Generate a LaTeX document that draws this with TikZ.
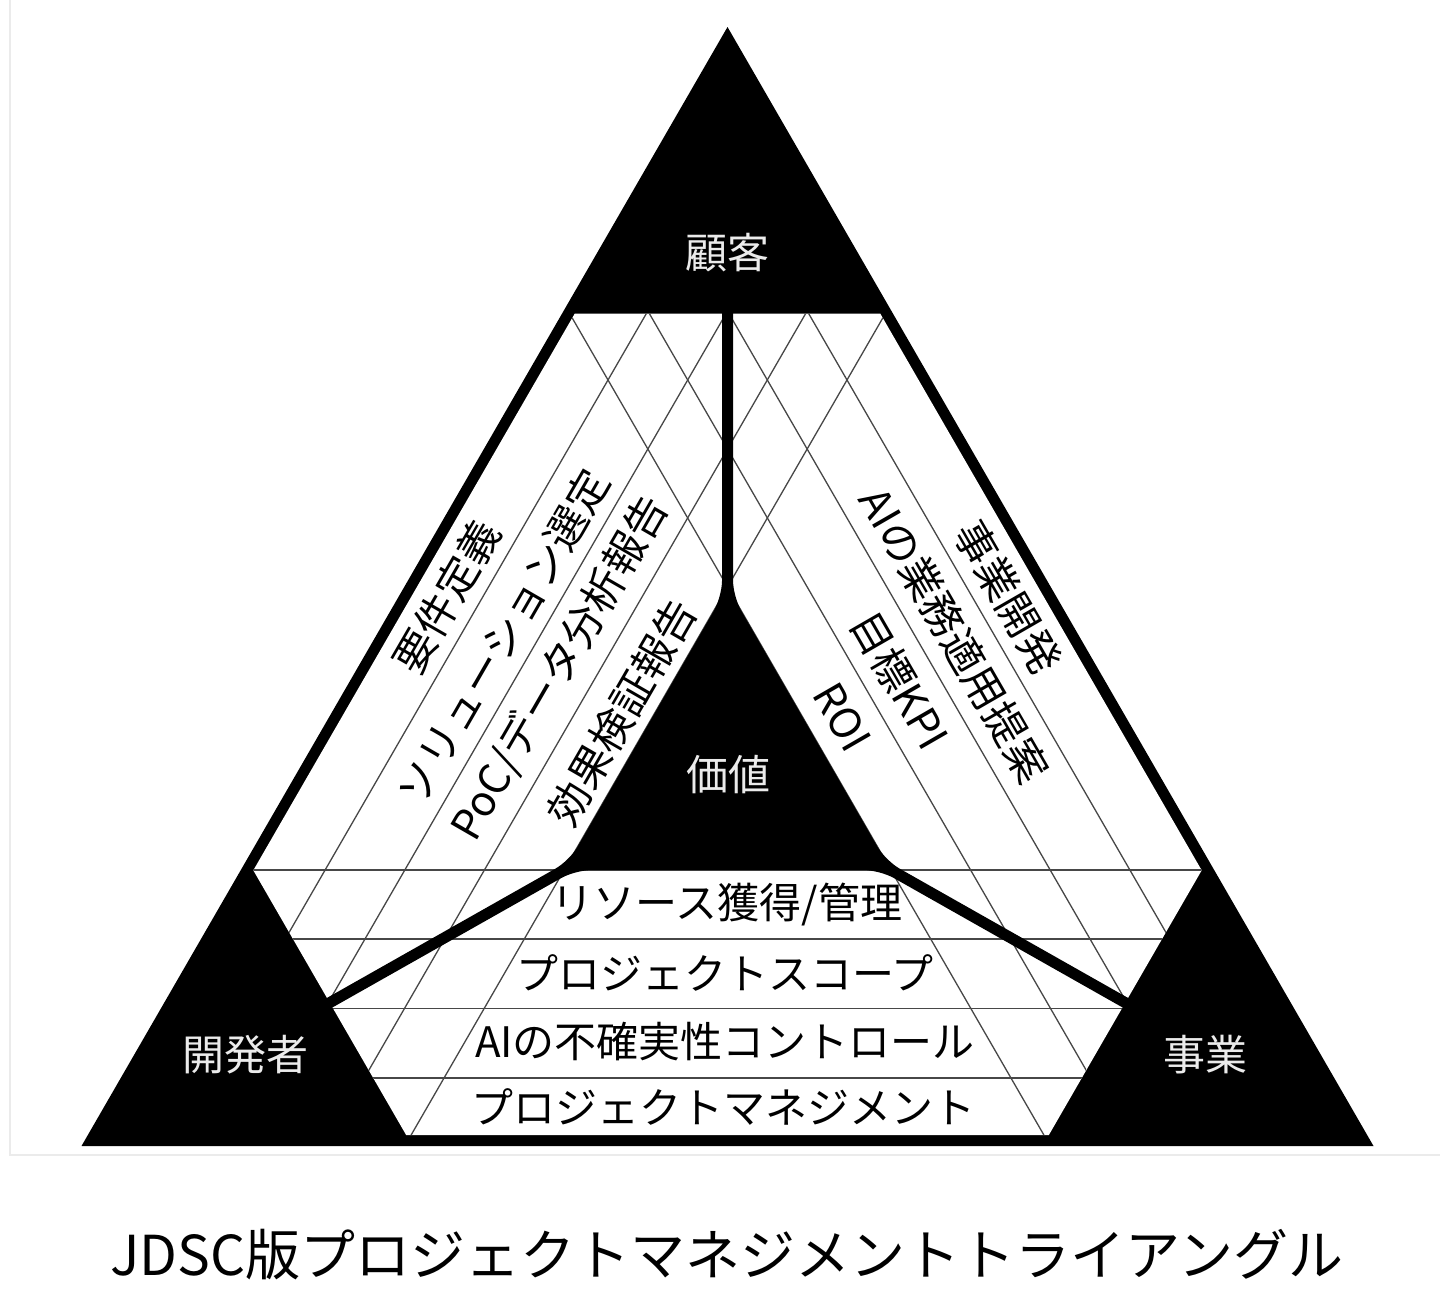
\documentclass[tikz,border=0pt]{standalone}
\usepackage{fontspec}
\setmainfont{Noto Sans CJK JP}
\begin{document}
\begin{tikzpicture}[x=0.5pt,y=-0.5pt,
  thinline/.style={draw=black!72, line width=0.65pt},
  thickblack/.style={fill=black},
  bandtext/.style={inner sep=0pt, font=\fontsize{21pt}{21pt}\selectfont},
  cornertext/.style={inner sep=0pt, text=black!8, font=\fontsize{21pt}{21pt}\selectfont},
  titletext/.style={inner sep=0pt, font=\fontsize{27.5pt}{27.5pt}\selectfont},
  frameline/.style={draw=black!8, line width=0.8pt}]
\useasboundingbox (0,0) rectangle (1440,1296);
% faint frame
\draw[frameline] (10,-2) -- (10,1155) -- (1442,1155);
% outer triangle
\coordinate (A) at (727.5,27);
\coordinate (B) at (81.5,1146);
\coordinate (C) at (1373.5,1146);
\coordinate (Ai) at (727.5,49);
\coordinate (Bi) at (100.5,1135);
\coordinate (Ci) at (1354.5,1135);
\coordinate (Tl) at (562,313.6);
\coordinate (Tr) at (893,313.6);
\coordinate (BRt) at (1208,859.4);
\coordinate (BRl) at (1042.5,1146);
\coordinate (BLr) at (412.5,1146);
\coordinate (BLt) at (247,859.4);
\fill[thickblack] (A) -- (B) -- (C) -- cycle;
\begin{scope}
  \clip (Ai) -- (Bi) -- (Ci) -- cycle;
  \clip (Tl) -- (Tr) -- (BRt) -- (BRl) -- (BLr) -- (BLt) -- cycle;
  \fill[white] (0,0) rectangle (1440,1296);
  % left band lines
  \draw[thinline] (711.9,200) -- (134.6,1200);
  \draw[thinline] (791.6,200) -- (214.3,1200);
  \draw[thinline] (871.2,200) -- (293.9,1200);
  \draw[thinline] (950.9,200) -- (373.6,1200);
  % right band lines
  \draw[thinline] (743.1,200) -- (1320.4,1200);
  \draw[thinline] (663.4,200) -- (1240.7,1200);
  \draw[thinline] (583.8,200) -- (1161.1,1200);
  \draw[thinline] (504.1,200) -- (1081.4,1200);
  % bottom band lines
  \draw[thinline] (0,1078) -- (1440,1078);
  \draw[thinline] (0,1008.5) -- (1440,1008.5);
  \draw[thinline] (0,939) -- (1440,939);
  \draw[thinline] (0,870) -- (1440,870);
\end{scope}
% centre shape: triangle and three spokes
\coordinate (Va) at (727.5,587);
\coordinate (Vl) at (564.1,870);
\coordinate (Vr) at (890.9,870);
\coordinate (TLa) at (722,250);
\coordinate (TLb) at (722,900);
\coordinate (TRa) at (733,250);
\coordinate (TRb) at (733,900);
\coordinate (ULa) at (561.39,865.21);
\coordinate (ULb) at (283.5,1022.5);
\coordinate (LLa) at (566.81,874.79);
\coordinate (LLb) at (288.9,1032.1);
\coordinate (URa) at (893.61,865.21);
\coordinate (URb) at (1171.5,1022.5);
\coordinate (LRa) at (888.19,874.79);
\coordinate (LRb) at (1166.1,1032.1);
\fill[thickblack, rounded corners=8pt]
  (TLa) -- (intersection of TLa--TLb and Va--Vl)
  -- (intersection of Va--Vl and ULa--ULb) -- (ULb) -- (LLb)
  -- (intersection of LLa--LLb and Vl--Vr)
  -- (intersection of Vl--Vr and LRa--LRb) -- (LRb) -- (URb)
  -- (intersection of URa--URb and Va--Vr)
  -- (intersection of Va--Vr and TRa--TRb) -- (TRa) -- cycle;
% corner labels
\node[cornertext] (kokyaku) at (727.5,253) {顧客};
\node[cornertext] (kaihatsu) at (245,1055) {開発者};
\node[cornertext] (jigyou) at (1205,1055) {事業};
\node[cornertext] (kachi) at (728,775) {価値};
% left band texts
\node[bandtext, rotate=60] (l1) at (447,597) {要件定義};
\node[bandtext, rotate=60] (l2) at (503,637) {ソリューション選定};
\node[bandtext, rotate=60] (l3) at (560,668) {PoC/データ分析報告};
\node[bandtext, rotate=60] (l4) at (622,712) {効果検証報告};
% right band texts
\node[bandtext, rotate=-60] (r1) at (1008,597) {事業開発};
\node[bandtext, rotate=-60] (r2) at (954,635) {AIの業務適用提案};
\node[bandtext, rotate=-60] (r3) at (900,680) {目標KPI};
\node[bandtext, rotate=-60] (r4) at (842,717) {ROI};
% bottom band texts
\node[bandtext] (b1) at (727,905) {リソース獲得/管理};
\node[bandtext] (b2) at (725,973) {プロジェクトスコープ};
\node[bandtext] (b3) at (725,1042) {AIの不確実性コントロール};
\node[bandtext] (b4) at (723,1107) {プロジェクトマネジメント};
% title
\node[titletext] (title) at (727,1255) {JDSC版プロジェクトマネジメントトライアングル};
\end{tikzpicture}
\end{document}
